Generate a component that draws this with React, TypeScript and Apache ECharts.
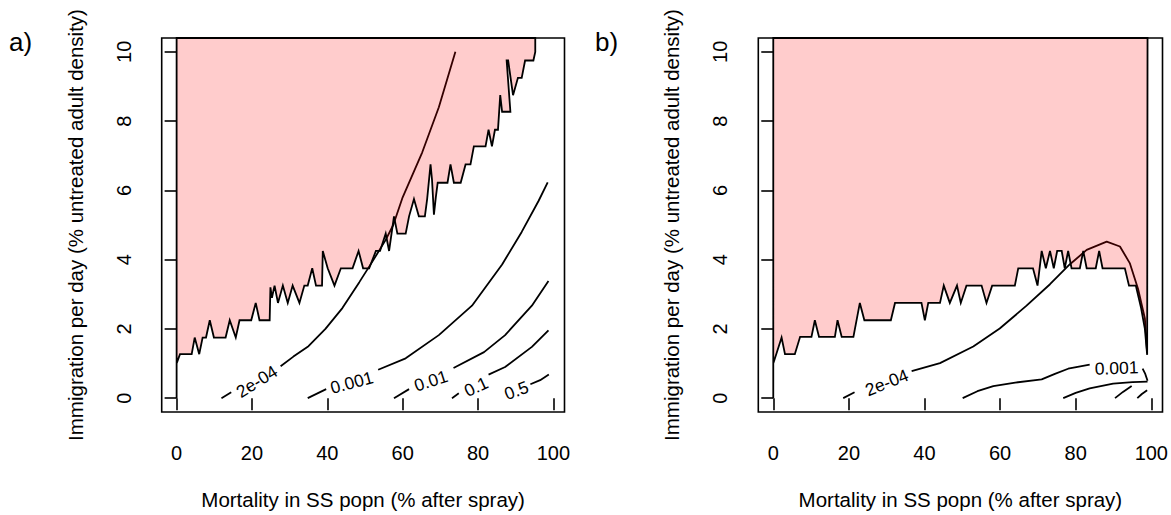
import React, { useEffect, useRef } from 'react';
import * as echarts from 'echarts';

const FONT = '"Liberation Sans", Arial, Helvetica, sans-serif';

const xTicks = [0, 20, 40, 60, 80, 100];
const yTicks = [0, 2, 4, 6, 8, 10];
const xTitle = 'Mortality in SS popn (% after spray)';
const yTitle = 'Immigration per day (% untreated adult density)';
const panelTags = ['a)', 'b)'];

// ---------- panel a ----------
const aRegion: number[][] = [
  [0, 10.4], [0, 0], [0, 1.0], [0.9, 1.27], [4.0, 1.27], [4.8, 1.75], [6.0, 1.27], [6.9, 1.75],
  [7.8, 1.75], [8.8, 2.25], [9.9, 1.75], [13.0, 1.75], [14.1, 2.25], [15.7, 1.75], [16.7, 2.25],
  [19.8, 2.25], [21.0, 2.75], [22.0, 2.25], [24.7, 2.25], [24.9, 3.2], [25.3, 2.9], [26.0, 3.25],
  [26.9, 2.75], [28.2, 3.25], [29.5, 2.75], [30.8, 3.25], [32.6, 2.75], [33.9, 3.25], [34.8, 3.25],
  [36.0, 3.75], [37.0, 3.25], [38.6, 3.25], [38.8, 4.25], [40.1, 3.75], [41.9, 3.25], [43.6, 3.75],
  [46.7, 3.75], [48.3, 4.25], [49.5, 3.75], [51.1, 3.75], [52.9, 4.25], [54.0, 4.25], [55.5, 4.75],
  [56.4, 4.25], [57.7, 5.25], [58.6, 4.75], [60.8, 4.75], [61.7, 5.25], [63.0, 5.75], [64.3, 5.25],
  [65.9, 5.25], [66.5, 5.75], [67.4, 6.75], [67.8, 6.3], [68.3, 5.3], [68.8, 5.8], [69.3, 6.22],
  [71.9, 6.22], [72.7, 6.75], [73.6, 6.22], [75.4, 6.22], [76.7, 6.75], [78.0, 6.75], [78.9, 7.27],
  [82.0, 7.27], [82.8, 7.75], [83.7, 7.27], [84.5, 7.75], [85.3, 7.75], [85.9, 8.75], [86.4, 8.27],
  [88.6, 8.27], [87.6, 9.75], [88.0, 9.75], [89.3, 8.75], [90.6, 9.25], [91.6, 9.25], [92.5, 9.75],
  [94.7, 9.75], [95.2, 10.0], [95.2, 10.4],
];
const aC2e4Lo = [[11.9, 0], [14.5, 0.17]];
const aC2e4Hi = [
  [27.6, 0.92], [31.0, 1.2], [35.0, 1.5], [39.5, 2.0], [44.0, 2.6], [48.5, 3.35], [52.0, 3.95],
  [55.5, 4.57], [57.5, 5.0], [60.0, 5.8], [65.2, 7.1], [69.6, 8.4], [74.0, 10.0],
];
const aC001Lo = [[34.8, 0], [39.7, 0.26]];
const aC001Hi = [
  [53.5, 0.82], [60.8, 1.15], [69.6, 1.82], [78.4, 2.67], [86.4, 3.86], [91.6, 4.8], [96.1, 5.7], [98.5, 6.23],
];
const aC01Lo = [[57.7, 0], [61.7, 0.26]];
const aC01Hi = [[73.5, 0.87], [81.6, 1.33], [87.2, 1.82], [94.3, 2.67], [98.7, 3.38]];
const aC1Lo = [[73.1, 0], [74.9, 0.14]];
const aC1Hi = [[82.8, 0.68], [87.2, 0.9], [94.3, 1.48], [98.7, 1.96]];
const aC5Hi = [[93.9, 0.4], [96.5, 0.52], [98.8, 0.68]];
const aLabels: [number, number, string, number][] = [
  [21.3, 0.48, '2e-04', 32],
  [46.5, 0.45, '0.001', 15],
  [67.5, 0.5, '0.01', 18],
  [79.5, 0.33, '0.1', 25],
  [90.2, 0.22, '0.5', 20],
];

// ---------- panel b ----------
const bRegion: number[][] = [
  [0, 10.4], [0, 0], [0, 1.0], [2.2, 1.75], [3.1, 1.27], [5.7, 1.27], [7.1, 1.77], [10.1, 1.77],
  [11.0, 2.25], [12.1, 1.77], [16.3, 1.77], [17.0, 2.25], [18.1, 1.77], [21.2, 1.77], [22.9, 2.75],
  [24.1, 2.25], [31.1, 2.25], [32.2, 2.75], [39.2, 2.75], [40.1, 2.25], [41.0, 2.75], [44.1, 2.75],
  [45.1, 3.25], [46.7, 2.75], [48.6, 3.25], [49.6, 2.75], [51.1, 3.25], [55.1, 3.25], [56.4, 2.75],
  [57.9, 3.25], [63.9, 3.25], [64.8, 3.75], [68.7, 3.75], [69.9, 3.25], [71.0, 4.25], [72.1, 3.75],
  [73.2, 4.25], [74.2, 3.75], [75.1, 4.25], [76.3, 4.25], [77.1, 3.75], [78.0, 4.25], [78.9, 3.75],
  [81.1, 3.75], [82.0, 4.25], [82.9, 3.75], [85.3, 3.75], [86.2, 4.25], [87.1, 3.75], [93.0, 3.75],
  [94.1, 3.25], [95.9, 3.25], [97.3, 2.6], [98.3, 2.0], [98.9, 1.25], [99, 10.4],
];
const bC2e4Lo = [[18.5, 0], [21.5, 0.17]];
const bC2e4Hi = [
  [36.6, 0.78], [44.1, 1.01], [52.9, 1.49], [59.9, 2.01], [67.0, 2.67], [73.2, 3.29], [78.4, 3.86],
  [82.9, 4.28], [88.2, 4.52], [91.7, 4.38], [94.3, 3.9], [96.5, 3.15], [98.3, 2.3], [98.9, 1.3],
];
const bC001Lo = [
  [50.1, 0], [54.0, 0.2], [58.2, 0.35], [64.0, 0.45], [71.0, 0.54], [74.5, 0.7], [78.0, 0.85], [83.7, 0.97],
];
const bC001Hi = [[97.7, 0.85], [98.4, 0.7], [99, 0.5]];
const bC01 = [[76.7, 0], [80.0, 0.15], [83.7, 0.28], [89.9, 0.42], [95.0, 0.46], [99, 0.48]];
const bC1 = [[90.4, 0], [92.5, 0.18], [94.8, 0.35]];
const bC5 = [[96.3, 0], [97.5, 0.12], [98.9, 0.23]];
const bLabels: [number, number, string, number][] = [
  [30.0, 0.45, '2e-04', 22],
  [90.8, 0.87, '0.001', 2],
];

const panels = [
  { left: 161.7, width: 402.8, region: aRegion, lines: [aC2e4Lo, aC2e4Hi, aC001Lo, aC001Hi, aC01Lo, aC01Hi, aC1Lo, aC1Hi, aC5Hi], labels: aLabels },
  { left: 758.3, width: 404.4, region: bRegion, lines: [bC2e4Lo, bC2e4Hi, bC001Lo, bC001Hi, bC01, bC1, bC5], labels: bLabels },
];

function buildOption() {
  const grid: any[] = [];
  const xAxis: any[] = [];
  const yAxis: any[] = [];
  const series: any[] = [];
  panels.forEach((p, i) => {
    grid.push({ left: p.left, top: 38, width: p.width, height: 380, show: true, borderColor: '#000', borderWidth: 1.6, backgroundColor: 'transparent' });
    xAxis.push({
      gridIndex: i, type: 'value', min: -3.96, max: 102.96,
      axisLine: { show: false },
      axisTick: { show: true, length: 12, customValues: xTicks, lineStyle: { color: '#000', width: 1.6 } },
      axisLabel: { customValues: xTicks, margin: 31, fontSize: 20, color: '#000', fontFamily: FONT },
      splitLine: { show: false },
      name: xTitle, nameLocation: 'middle', nameGap: 77,
      nameTextStyle: { fontSize: 20.5, color: '#000', fontFamily: FONT },
    });
    yAxis.push({
      gridIndex: i, type: 'value', min: -0.4, max: 10.4,
      axisLine: { show: false },
      axisTick: { show: true, length: 12, customValues: yTicks, lineStyle: { color: '#000', width: 1.6 } },
      axisLabel: { customValues: yTicks, rotate: 90, margin: 28, fontSize: 20, color: '#000', fontFamily: FONT },
      splitLine: { show: false },
      name: yTitle, nameLocation: 'middle', nameGap: 76,
      nameTextStyle: { fontSize: 20.5, color: '#000', fontFamily: FONT },
    });
    p.lines.forEach((d) => {
      series.push({
        type: 'line', xAxisIndex: i, yAxisIndex: i, data: d, showSymbol: false, symbol: 'none',
        lineStyle: { color: '#000', width: 1.8 }, silent: true, z: 2,
      });
    });
    const region = p.region;
    series.push({
      type: 'custom', xAxisIndex: i, yAxisIndex: i, data: [[0, 0]], silent: true, z: 3,
      renderItem: (_params: any, api: any) => ({
        type: 'polygon',
        shape: { points: region.map((pt) => api.coord(pt)) },
        style: { fill: 'rgba(255,0,0,0.2)', stroke: '#000', lineWidth: 1.8, lineJoin: 'miter' },
      }),
    });
    const labels = p.labels;
    series.push({
      type: 'custom', xAxisIndex: i, yAxisIndex: i, silent: true, z: 4,
      data: labels.map((l) => [l[0], l[1]]),
      renderItem: (params: any, api: any) => {
        const c = api.coord([api.value(0), api.value(1)]);
        const l = labels[params.dataIndex];
        return {
          type: 'text', x: c[0], y: c[1], rotation: (l[3] * Math.PI) / 180,
          style: {
            text: l[2], fill: '#000', font: `17.5px ${FONT}`,
            align: 'center', verticalAlign: 'middle', textAlign: 'center', textVerticalAlign: 'middle',
          },
        };
      },
    });
  });
  return {
    animation: false,
    backgroundColor: '#fff',
    grid, xAxis, yAxis, series,
    graphic: [
      { type: 'text', left: 9, top: 29, style: { text: panelTags[0], font: `26px ${FONT}`, fill: '#000' } },
      { type: 'text', left: 595, top: 29, style: { text: panelTags[1], font: `26px ${FONT}`, fill: '#000' } },
    ],
  };
}

export default function App() {
  const ref = useRef<HTMLDivElement>(null);
  useEffect(() => {
    if (!ref.current) return;
    const chart = echarts.init(ref.current, undefined, { renderer: 'svg' });
    chart.setOption(buildOption() as any);
    return () => chart.dispose();
  }, []);
  return <div ref={ref} style={{ position: 'fixed', left: 0, top: 0, width: 1171, height: 515, background: '#fff' }} />;
}
